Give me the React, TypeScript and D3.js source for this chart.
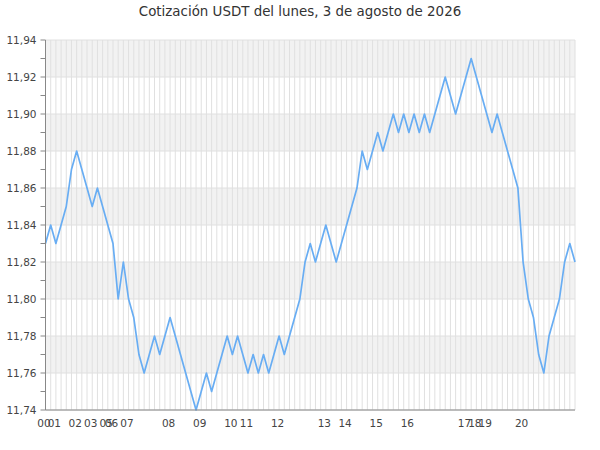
import * as d3 from 'd3'

const title = 'Cotización USDT del lunes, 3 de agosto de 2026'

// one rate per quote, in order through the day
const rates = [
  11.83, 11.84, 11.83, 11.84, 11.85, 11.87, 11.88, 11.87, 11.86, 11.85,
  11.86, 11.85, 11.84, 11.83, 11.8, 11.82, 11.8, 11.79, 11.77, 11.76,
  11.77, 11.78, 11.77, 11.78, 11.79, 11.78, 11.77, 11.76, 11.75, 11.74,
  11.75, 11.76, 11.75, 11.76, 11.77, 11.78, 11.77, 11.78, 11.77, 11.76,
  11.77, 11.76, 11.77, 11.76, 11.77, 11.78, 11.77, 11.78, 11.79, 11.8,
  11.82, 11.83, 11.82, 11.83, 11.84, 11.83, 11.82, 11.83, 11.84, 11.85,
  11.86, 11.88, 11.87, 11.88, 11.89, 11.88, 11.89, 11.9, 11.89, 11.9,
  11.89, 11.9, 11.89, 11.9, 11.89, 11.9, 11.91, 11.92, 11.91, 11.9,
  11.91, 11.92, 11.93, 11.92, 11.91, 11.9, 11.89, 11.9, 11.89, 11.88,
  11.87, 11.86, 11.82, 11.8, 11.79, 11.77, 11.76, 11.78, 11.79, 11.8,
  11.82, 11.83, 11.82,
]

// hour labels and the quote where each hour starts
const hourLabels = ['00', '01', '02', '03', '05', '06', '07', '08', '09', '10', '11', '12', '13', '14', '15', '16', '17', '18', '19', '20']
const hourStarts = [0, 2, 6, 9, 12, 13, 16, 24, 30, 36, 39, 45, 54, 58, 64, 70, 81, 83, 85, 92]

const yDomain = [11.74, 11.94]

const width = 600
const height = 450
const marginTop = 40
const marginRight = 25
const marginBottom = 40
const marginLeft = 45.5

const fmt = d3.formatLocale({ decimal: ',', thousands: '.', grouping: [3], currency: ['', ''] }).format('.2f')

export default function App() {
  const x = d3.scaleLinear([0, rates.length - 1], [marginLeft, width - marginRight])
  const y = d3.scaleLinear(yDomain, [height - marginBottom, marginTop])
  const line = d3.line<number>((d, i) => x(i), y)
  const major = y.ticks(10)
  const minor = y.ticks(20)
  const font = 'DejaVu Sans, sans-serif'

  return (
    <svg width={width} height={height} style={{ position: 'absolute', left: 0, top: 0 }} fontFamily={font}>
      <rect width={width} height={height} fill="white" />
      <text x={width / 2} y={16} textAnchor="middle" fontSize={13.4} fill="#333">{title}</text>

      {major.slice(0, -1).map((v, i) =>
        i % 2 === 1 ? (
          <rect key={v} x={marginLeft} width={width - marginRight - marginLeft} y={y(v + 0.02)} height={y(v) - y(v + 0.02)} fill="#f2f2f2" />
        ) : null
      )}

      <g stroke="#e0e0e0" strokeWidth={1}>
        {rates.map((d, i) => (
          <line key={i} x1={x(i)} x2={x(i)} y1={marginTop} y2={height - marginBottom} />
        ))}
        {major.map((v) => (
          <line key={v} x1={marginLeft} x2={width - marginRight} y1={y(v)} y2={y(v)} />
        ))}
      </g>

      <path fill="none" stroke="#68adf3" strokeWidth={1.7} strokeLinejoin="round" d={line(rates) || undefined} />

      <g stroke="#888" strokeWidth={1}>
        <line x1={marginLeft} x2={marginLeft} y1={marginTop} y2={height - marginBottom} />
        <line x1={marginLeft} x2={width - marginRight} y1={height - marginBottom} y2={height - marginBottom} />
        {minor.map((v) => (
          <line key={v} x1={marginLeft - 5} x2={marginLeft} y1={y(v)} y2={y(v)} />
        ))}
      </g>

      <g fontSize={10.5} fill="#444">
        {major.map((v) => (
          <text key={v} x={marginLeft - 9} y={y(v)} dy="0.35em" textAnchor="end">{fmt(v)}</text>
        ))}
        {hourLabels.map((h, i) => (
          <text key={h} x={x(hourStarts[i]) - 1.5} y={height - marginBottom + 17} textAnchor="middle">{h}</text>
        ))}
      </g>
    </svg>
  )
}
